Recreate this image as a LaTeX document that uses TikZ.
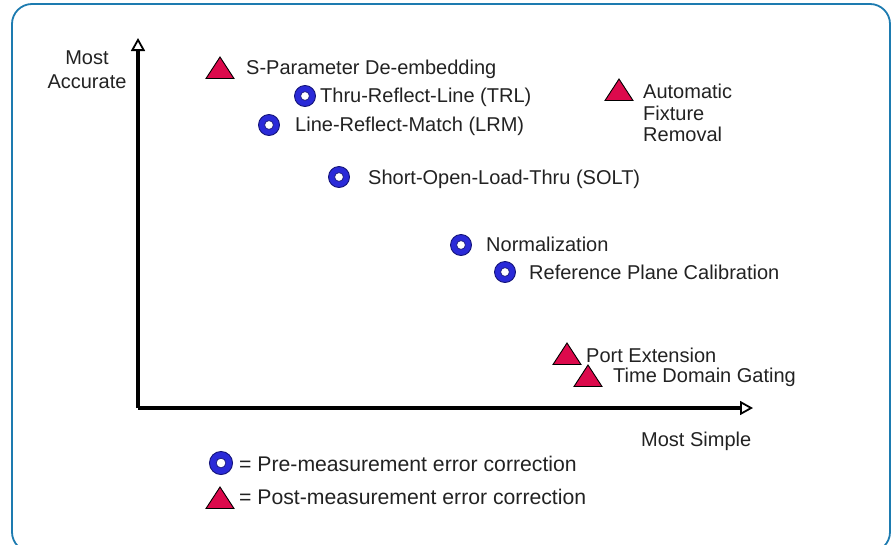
\documentclass[tikz,border=0pt]{standalone}
\usepackage{fontspec}
\setmainfont{Liberation Sans}
\usetikzlibrary{arrows.meta}
\definecolor{frameblue}{HTML}{1D7BB0}
\definecolor{ringblue}{HTML}{2A2AD8}
\definecolor{ringdark}{HTML}{14147A}
\definecolor{tricrimson}{HTML}{DC0A4C}
\definecolor{txt}{HTML}{222222}
\tikzset{
  lbl/.style={anchor=west, inner sep=0pt, text=txt, font=\fontsize{20}{22}\selectfont},
  leg/.style={lbl, font=\fontsize{21.2}{24}\selectfont},
  axis/.style={line width=3.4pt, black, -{Triangle[open, length=13pt, width=14pt, line width=1.8pt]}},
  pre/.pic={
    \fill[ringblue, draw=ringdark, line width=0.9pt] (0,0) circle (10.5);
    \fill[white, draw=ringdark, line width=0.7pt] (0,0) circle (4.4);
  },
  post/.pic={
    \fill[tricrimson, draw=black, line width=0.9pt] (-14,10.5) -- (14,10.5) -- (0,-11) -- cycle;
  }
}
\begin{document}
\begin{tikzpicture}[x=1pt,y=-1pt]
\useasboundingbox (0,0) rectangle (891,544);
\begin{scope}
\clip (0,0) rectangle (891,544);
\draw[frameblue, line width=1.8pt, rounded corners=20pt] (12,4) rectangle (890,552);
\end{scope}
% axes
\coordinate (origin) at (138,408);
\coordinate (ytip) at (138,38);
\coordinate (xtip) at (753,408);
\draw[axis] (origin) -- (ytip);
\draw[axis] (origin) -- (xtip);
\node[lbl, anchor=center, align=center, font=\fontsize{20}{24}\selectfont] (mostacc) at (87,70) {Most\\Accurate};
\node[lbl] (mostsimple) at (641,441) {Most Simple};
% markers
\pic (m1) at (220,68) {post};
\node[lbl] (t1) at (246,69) {S-Parameter De-embedding};
\pic (m2) at (305,96) {pre};
\node[lbl] (t2) at (320,97) {Thru-Reflect-Line (TRL)};
\pic (m3) at (269,125) {pre};
\node[lbl] (t3) at (295,126) {Line-Reflect-Match (LRM)};
\pic (m4) at (339,177) {pre};
\node[lbl] (t4) at (368,179) {Short-Open-Load-Thru (SOLT)};
\pic (m5) at (461,245) {pre};
\node[lbl] (t5) at (486,244) {Normalization};
\pic (m6) at (505,272) {pre};
\node[lbl] (t6) at (529,272) {Reference Plane Calibration};
\pic (m7) at (567,354) {post};
\node[lbl] (t7) at (586,355) {Port Extension};
\pic (m8) at (588,376) {post};
\node[lbl] (t8) at (613,377) {Time Domain Gating};
\pic (m9) at (619,90) {post};
\node[lbl, anchor=north west, align=left, font=\fontsize{20}{21.5}\selectfont] (t9) at (643,84) {Automatic\\Fixture\\Removal};
% legend
\pic[scale=1.1] (l1) at (221,463) {pre};
\node[leg] (lt1) at (239,464) {= Pre-measurement error correction};
\pic (l2) at (220,498) {post};
\node[leg] (lt2) at (239,497) {= Post-measurement error correction};
\end{tikzpicture}
\end{document}
